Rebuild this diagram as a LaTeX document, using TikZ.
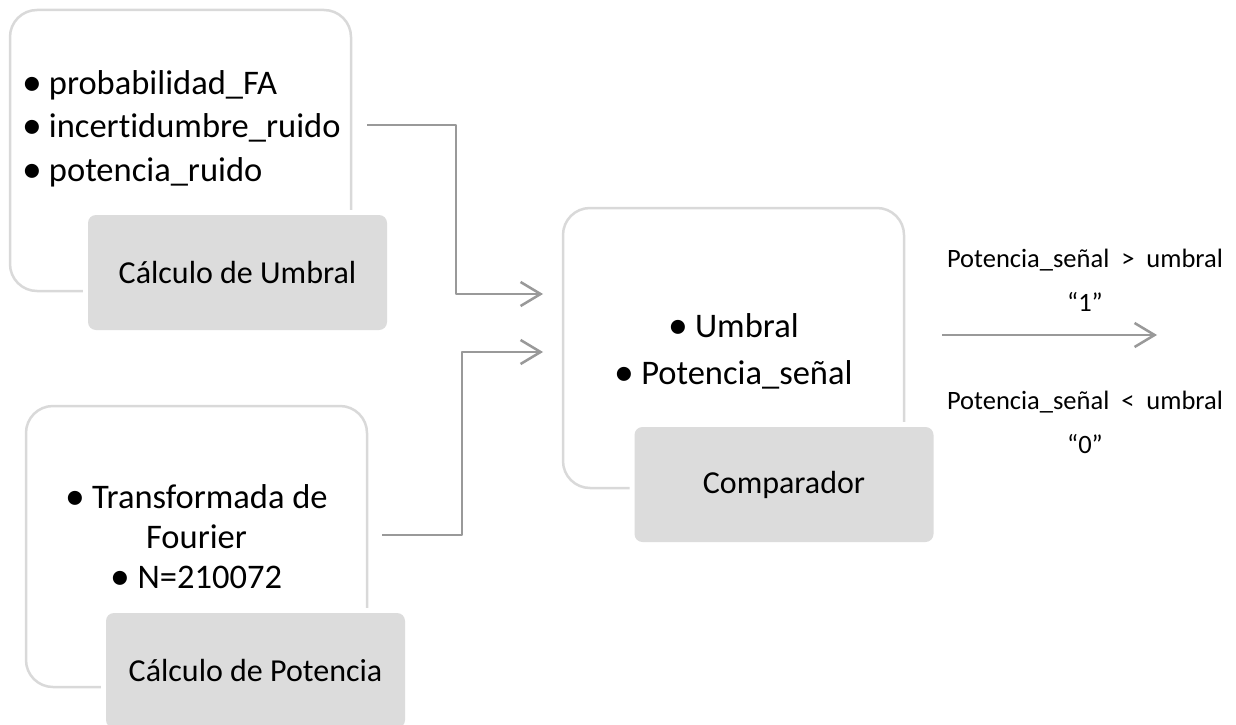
\documentclass[tikz,border=0pt]{standalone}
\usepackage{fontspec}
\usepackage{graphicx}
\setmainfont{Carlito}[Ligatures=NoCommon]
\usetikzlibrary{arrows.meta}
\definecolor{boxline}{HTML}{D9D9D9}
\definecolor{labelfill}{HTML}{DCDCDC}
\definecolor{connline}{HTML}{999999}
\def\bul{\raisebox{-1pt}{\scalebox{1.15}{•}}\hspace{7pt}}
\begin{document}
\begin{tikzpicture}[x=1pt,y=-1pt,line join=round,
		outerbox/.style={draw=boxline,line width=2.5pt,rounded corners=27pt,minimum width=341pt,minimum height=281pt,inner sep=0pt},
		labelbox/.style={fill=labelfill,rounded corners=8pt,minimum width=299pt,minimum height=115pt,inner sep=0pt,
			preaction={draw=white,line width=10pt},font=\fontsize{32}{38}\selectfont},
		listtext/.style={inner sep=0pt,font=\fontsize{34.5}{43.5}\selectfont},
		condtext/.style={inner sep=0pt,align=center,font=\fontsize{26.5}{44}\selectfont},
		conn/.style={draw=connline,line width=2.5pt,-{Straight Barb[length=20pt,width=24pt]}}]
			\useasboundingbox (0,0) rectangle (1236,725);
			\node[outerbox] (umbralbox) at (180.5,150.5) {};
			\node[listtext,anchor=west,align=left] (umbrallist) at (22,128.5)
				{\bul probabilidad\_FA\\\bul incertidumbre\_ruido\\\bul potencia\_ruido};
			\node[labelbox] (umbrallabel) at (237.5,272.5) {Cálculo de Umbral};
			\node[outerbox] (potbox) at (196.5,546.5) {};
			\node[listtext,align=center,font=\fontsize{34.5}{40}\selectfont] (potlist) at (196.5,537)
				{\bul Transformada de\\Fourier\\\bul N=210072};
			\node[labelbox] (potlabel) at (255.5,670.5) {Cálculo de Potencia};
			\node[outerbox,minimum height=280pt] (compbox) at (733.5,348) {};
			\node[listtext,align=center,font=\fontsize{34.5}{47}\selectfont] (complist) at (733.5,351.5)
				{\bul Umbral\\\bul Potencia\_señal};
			\node[labelbox] (complabel) at (784,484.5) {Comparador};
			\node[condtext] (mayor) at (1085,280) {Potencia\_señal\ \ >\ \ umbral\\“1”};
			\node[condtext] (menor) at (1085,422) {Potencia\_señal\ \ <\ \ umbral\\“0”};
			\coordinate (umbralout) at (367,125);
			\coordinate (potout) at (382,535);
			\coordinate (compin1) at (543,294);
			\coordinate (compin2) at (543,352);
			\coordinate (salidain) at (942,335);
			\coordinate (salidaout) at (1157,335);
			\draw[conn] (umbralout) -| (456,294) -- (compin1);
			\draw[conn] (potout) -| (462,352) -- (compin2);
			\draw[conn] (salidain) -- (salidaout);
		\end{tikzpicture}
\end{document}
